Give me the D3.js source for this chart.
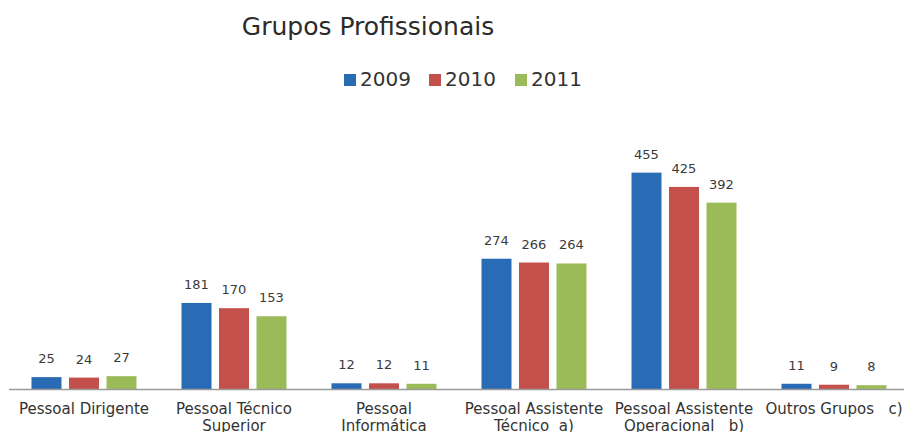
<!DOCTYPE html>
<html>
<head>
<meta charset="utf-8">
<script src="https://cdn.jsdelivr.net/npm/d3@7/dist/d3.min.js"></script>
<style>
  html, body { margin: 0; padding: 0; background: #fff; }
  svg { display: block; font-family: "DejaVu Sans", Verdana, sans-serif; }
</style>
</head>
<body>
<svg id="chart" width="904" height="432"></svg>
<script>
// Staff by professional group, 2009–2011
const categories = [
  ["Pessoal Dirigente"],
  ["Pessoal Técnico", "Superior"],
  ["Pessoal", "Informática"],
  ["Pessoal Assistente", "Técnico  a)"],
  ["Pessoal Assistente", "Operacional   b)"],
  ["Outros Grupos   c)"]
];
const years = ["2009", "2010", "2011"];
const values2009 = [25, 181, 12, 274, 455, 11];
const values2010 = [24, 170, 12, 266, 425, 9];
const values2011 = [27, 153, 11, 264, 392, 8];
const seriesValues = [values2009, values2010, values2011];
const colors = ["#2a6bb5", "#c4504c", "#9bbb59"];

const svg = d3.select("#chart");
const catIds = categories.map((_, i) => i);

const x0 = d3.scaleBand().domain(catIds).range([9, 909])
  .paddingInner(0.3).paddingOuter(0.15);
const x1 = d3.scaleBand().domain(years).range([0, x0.bandwidth()]).paddingInner(0.2);
const y = d3.scaleLinear().domain([0, 500]).range([389, 389 - 0.4755 * 500]);
const color = d3.scaleOrdinal().domain(years).range(colors);

// Title
svg.append("text")
  .attr("x", 368).attr("y", 35)
  .attr("text-anchor", "middle")
  .attr("font-size", 25)
  .attr("fill", "#2b2b2b")
  .text("Grupos Profissionais");

// Legend
const legendX = [344, 429, 515];
const legend = svg.append("g").selectAll("g").data(years).join("g")
  .attr("transform", (d, i) => `translate(${legendX[i]},0)`);
legend.append("rect")
  .attr("x", 0).attr("y", 74).attr("width", 12).attr("height", 12)
  .attr("fill", d => color(d));
legend.append("text")
  .attr("x", 16).attr("y", 86)
  .attr("font-size", 20)
  .attr("fill", "#333")
  .text(d => d);

// Bars
const groups = svg.append("g").selectAll("g").data(catIds).join("g")
  .attr("transform", i => `translate(${x0(i)},0)`);

const cells = groups.selectAll("g").data(i => years.map((yr, s) => ({ yr, v: seriesValues[s][i] })))
  .join("g");

cells.append("rect")
  .attr("x", d => x1(d.yr))
  .attr("y", d => y(d.v))
  .attr("width", x1.bandwidth())
  .attr("height", d => y(0) - y(d.v))
  .attr("fill", d => color(d.yr));

cells.append("text")
  .attr("x", d => x1(d.yr) + x1.bandwidth() / 2)
  .attr("y", d => y(d.v) - 14)
  .attr("text-anchor", "middle")
  .attr("font-size", 13)
  .attr("fill", "#3a3a3a")
  .text(d => d.v);

// Baseline axis
svg.append("line")
  .attr("x1", 9).attr("x2", 904)
  .attr("y1", y(0) + 0.5).attr("y2", y(0) + 0.5)
  .attr("stroke", "#9a9a9a").attr("stroke-width", 1.5);

// Category labels
const labels = svg.append("g").selectAll("text").data(catIds).join("text")
  .attr("text-anchor", "middle")
  .attr("font-size", 15)
  .attr("fill", "#333")
  .style("white-space", "pre");
labels.selectAll("tspan").data(i => categories[i].map(t => ({ t, i }))).join("tspan")
  .attr("x", d => x0(d.i) + x0.bandwidth() / 2)
  .attr("y", (d, k) => 414 + k * 17)
  .text(d => d.t);
</script>
</body>
</html>
